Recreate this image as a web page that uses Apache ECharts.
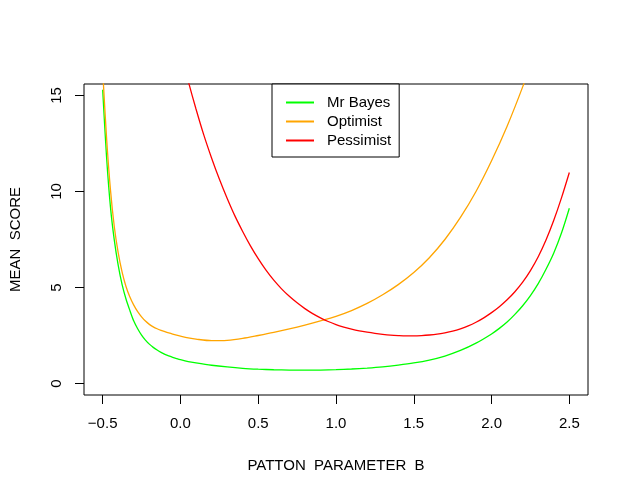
<!DOCTYPE html>
<html>
<head>
<meta charset="utf-8">
<script src="https://cdn.jsdelivr.net/npm/echarts@6/dist/echarts.min.js"></script>
<style>
  html, body { margin: 0; padding: 0; background: #fff; }
  #main { width: 630px; height: 499px; }
</style>
</head>
<body>
<div id="main"></div>
<script>
// values
var bayesX = [-0.5, -0.475, -0.45, -0.425, -0.4, -0.375, -0.35, -0.325, -0.3, -0.275, -0.25, -0.225, -0.2, -0.175, -0.15, -0.125, -0.1, -0.075, -0.05, -0.025, 0.0, 0.05, 0.1, 0.2, 0.3, 0.4, 0.5, 0.6, 0.7, 0.8, 0.9, 1.0, 1.1, 1.2, 1.3, 1.4, 1.5, 1.6, 1.7, 1.8, 1.9, 2.0, 2.05, 2.1, 2.15, 2.2, 2.25, 2.3, 2.35, 2.4, 2.45, 2.5];
var bayesY = [15.3, 11.8, 9.2, 7.45, 6.15, 5.15, 4.4, 3.8, 3.25, 2.85, 2.52, 2.26, 2.05, 1.88, 1.74, 1.62, 1.52, 1.44, 1.365, 1.3, 1.24, 1.14, 1.07, 0.95, 0.86, 0.79, 0.745, 0.715, 0.7, 0.695, 0.7, 0.72, 0.755, 0.805, 0.87, 0.96, 1.07, 1.22, 1.43, 1.72, 2.1, 2.58, 2.87, 3.2, 3.6, 4.05, 4.58, 5.2, 5.95, 6.8, 7.85, 9.13];

var optX = [-0.5, -0.475, -0.45, -0.425, -0.4, -0.375, -0.35, -0.325, -0.3, -0.275, -0.25, -0.225, -0.2, -0.175, -0.15, -0.125, -0.1, -0.075, -0.05, -0.025, 0.0, 0.05, 0.1, 0.2, 0.3, 0.4, 0.5, 0.6, 0.7, 0.8, 0.9, 1.0, 1.1, 1.2, 1.3, 1.4, 1.5, 1.6, 1.7, 1.8, 1.9, 2.0, 2.1, 2.2, 2.3];
var optY = [16.3, 12.8, 10.1, 8.15, 6.8, 5.8, 5.05, 4.5, 4.08, 3.74, 3.47, 3.25, 3.08, 2.95, 2.85, 2.77, 2.7, 2.635, 2.575, 2.52, 2.47, 2.38, 2.31, 2.23, 2.25, 2.35, 2.5, 2.66, 2.84, 3.04, 3.26, 3.5, 3.8, 4.17, 4.62, 5.15, 5.78, 6.55, 7.5, 8.65, 10.0, 11.6, 13.4, 15.45, 17.7];

var pessX = [0.0, 0.05, 0.1, 0.15, 0.2, 0.25, 0.3, 0.35, 0.4, 0.45, 0.5, 0.55, 0.6, 0.65, 0.7, 0.75, 0.8, 0.85, 0.9, 0.95, 1.0, 1.05, 1.1, 1.15, 1.2, 1.25, 1.3, 1.35, 1.4, 1.45, 1.5, 1.55, 1.6, 1.65, 1.7, 1.75, 1.8, 1.85, 1.9, 1.95, 2.0, 2.05, 2.1, 2.15, 2.2, 2.25, 2.3, 2.35, 2.4, 2.45, 2.5];
var pessY = [17.3, 15.75, 14.3, 12.95, 11.75, 10.65, 9.65, 8.73, 7.92, 7.17, 6.5, 5.9, 5.38, 4.93, 4.54, 4.2, 3.9, 3.64, 3.42, 3.23, 3.07, 2.94, 2.83, 2.74, 2.67, 2.61, 2.56, 2.52, 2.495, 2.48, 2.48, 2.495, 2.525, 2.57, 2.64, 2.73, 2.85, 3.0, 3.19, 3.42, 3.69, 4.0, 4.36, 4.78, 5.28, 5.88, 6.6, 7.47, 8.5, 9.68, 10.99];

var xTicks = [-0.5, 0, 0.5, 1, 1.5, 2, 2.5];
var yTicks = [0, 5, 10, 15];

function pairs(xs, ys) {
   var out = [];
   for (var i = 0; i < xs.length; i++) out.push([xs[i], ys[i]]);
   return out;
}

var font = '"Liberation Sans", Arial, sans-serif';
var chart = echarts.init(document.getElementById('main'));

function lineSeries(name, color, xs, ys) {
   return {
      name: name,
      type: 'line',
      data: pairs(xs, ys),
      symbol: 'none',
      showSymbol: false,
      smooth: 0.3,
      clip: true,
      animation: false,
      lineStyle: { color: color, width: 1.3 },
      itemStyle: { color: color }
   };
}

chart.setOption({
   animation: false,
   backgroundColor: '#fff',
   grid: {
      left: 83, right: 42, top: 84, bottom: 104,
      show: true, borderColor: '#000', borderWidth: 1, backgroundColor: 'transparent'
   },
   legend: {
      left: 272, top: 84,
      orient: 'vertical',
      data: ['Mr Bayes', 'Optimist', 'Pessimist'],
      backgroundColor: '#fff',
      borderColor: '#000', borderWidth: 1,
      padding: [11, 8, 9, 13],
      itemWidth: 28, itemHeight: 14, itemGap: 4,
      itemStyle: { opacity: 0 },
      textStyle: { fontFamily: font, fontSize: 15, color: '#000', padding: [0, 0, 0, 8] }
   },
   xAxis: {
      type: 'value',
      min: -0.62, max: 2.62,
      name: 'PATTON  PARAMETER  B',
      nameLocation: 'middle',
      nameGap: 63,
      nameTextStyle: { fontFamily: font, fontSize: 15, color: '#000' },
      axisLine: { show: false, onZero: false },
      axisTick: { show: true, length: 9, customValues: xTicks, lineStyle: { color: '#000' } },
      axisLabel: {
         customValues: xTicks, margin: 21,
         fontFamily: font, fontSize: 15, color: '#000',
         formatter: function (v) { return v.toFixed(1).replace('-', '\u2212'); }
      },
      splitLine: { show: false }
   },
   yAxis: {
      type: 'value',
      min: -0.6, max: 15.6,
      name: 'MEAN  SCORE',
      nameLocation: 'middle',
      nameGap: 61,
      nameTextStyle: { fontFamily: font, fontSize: 15, color: '#000' },
      axisLine: { show: false, onZero: false },
      axisTick: { show: true, length: 9, customValues: yTicks, lineStyle: { color: '#000' } },
      axisLabel: {
         customValues: yTicks, margin: 20, rotate: 90,
         fontFamily: font, fontSize: 15, color: '#000'
      },
      splitLine: { show: false }
   },
   series: [
      lineSeries('Mr Bayes', '#00ff00', bayesX, bayesY),
      lineSeries('Optimist', '#ffa500', optX, optY),
      lineSeries('Pessimist', '#ff0000', pessX, pessY)
   ]
});
</script>
</body>
</html>
